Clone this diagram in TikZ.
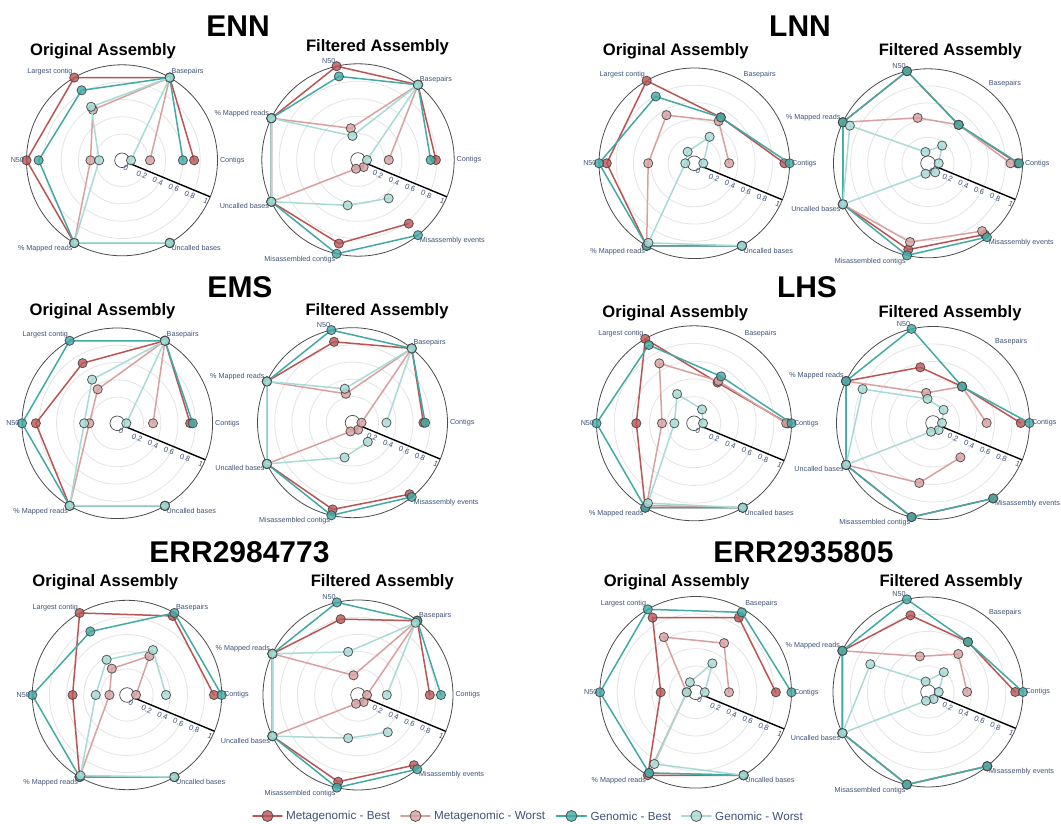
\documentclass[tikz,border=0pt]{standalone}
\usepackage{fontspec}
\setmainfont{Liberation Sans}
\definecolor{mbest}{HTML}{BD5454}
\definecolor{mworst}{HTML}{D9A0A0}
\definecolor{gbest}{HTML}{42AAA5}
\definecolor{gworst}{HTML}{A8DBD6}
\definecolor{labc}{HTML}{3F5378}
\definecolor{ringc}{HTML}{E4E4E4}
\tikzset{
  ring/.style={draw=ringc, line width=0.8pt},
  rim/.style={draw=black!70, line width=0.8pt},
  hole/.style={draw=black!70, line width=0.7pt},
  raxis/.style={draw=black, line width=1.4pt},
  tick/.style={text=labc, font=\fontsize{7.6}{8}\selectfont, rotate=-22.5, inner sep=0.5pt},
  axlab/.style={text=labc, font=\fontsize{7.2}{8}\selectfont, inner sep=0.8pt},
  tline/.style={draw=#1, line width=1.5pt, line join=round, line cap=round},
  tdot/.style={fill=#1, fill opacity=0.8, draw=black!75, draw opacity=0.85, line width=0.8pt},
  bigtitle/.style={font=\fontsize{30}{36}\selectfont\bfseries, anchor=base, inner sep=0pt},
  subtitle/.style={font=\fontsize{16.6}{20}\selectfont\bfseries, anchor=base, inner sep=0pt},
  legtext/.style={text=labc, font=\fontsize{11.7}{14}\selectfont, anchor=west, inner sep=0pt}
}
% rings, rim, inner hole and the radial scale of one polar panel
\newcommand\polarframe{%
  \foreach \v in {0.2,0.4,0.6,0.8}
    \draw[ring] (0,0) circle[radius={\chartZ+\v*(\chartR-\chartZ)}];
  \draw[rim] (0,0) circle[radius=\chartR];
  \draw[hole] (0,0) circle[radius=7.3];
  \draw[raxis] (-22.5:\chartZ) -- (-22.5:\chartR);
  \foreach \v in {0,0.2,0.4,0.6,0.8,1}
    \node[tick, shift={(-112.5:6.3)}] at (-22.5:{\chartZ+\v*(\chartR-\chartZ)}) {\v};
}
% one series: colour, first angle, angular step, values in drawing order
\newcommand\radartrace[4]{%
  \foreach \v [count=\k from 0] in {#4}
    \coordinate (pt\k) at ({#2-\k*#3}:{\chartZ+\v*(\chartR-\chartZ)});
  \draw[tline=#1] (pt0) \foreach \k in {1,...,\chartN} { -- (pt\k) };
  \foreach \k in {0,...,\chartN}
    \path[tdot=#1] (pt\k) circle[radius=4.6];
}
% six axes, drawn from Uncalled bases round to Contigs
\newcommand\sixtrace[2]{\def\chartN{5}\radartrace{#1}{300}{60}{#2}}
% seven axes, drawn from Misassembly events round to Contigs
\newcommand\seventrace[2]{\def\chartN{6}\radartrace{#1}{308.5714}{51.4286}{#2}}
\newcommand\sixaxes{%
  \node[axlab,anchor=west] at (0:{\chartR+1.5}) {Contigs};
  \node[axlab,anchor=south west] at (60:{\chartR+1.5}) {Basepairs};
  \node[axlab,anchor=south east] at (120:{\chartR+1.5}) {Largest contig};
  \node[axlab,anchor=east] at (180:{\chartR+1.5}) {N50};
  \node[axlab,anchor=north east] at (240:{\chartR+1.5}) {\% Mapped reads};
  \node[axlab,anchor=north west] at (300:{\chartR+1.5}) {Uncalled bases};
}
\newcommand\sevenaxes{%
  \node[axlab,anchor=west] at (0:{\chartR+1.5}) {Contigs};
  \node[axlab,anchor=south west] at (51.4286:{\chartR+1.5}) {Basepairs};
  \node[axlab,anchor=south east] at (102.857:{\chartR+1.5}) {N50};
  \node[axlab,anchor=south east] at (154.286:{\chartR+1.5}) {\% Mapped reads};
  \node[axlab,anchor=north east] at (205.714:{\chartR+1.5}) {Uncalled bases};
  \node[axlab,anchor=north east] at (257.143:{\chartR+1.5}) {Misassembled contigs};
  \node[axlab,anchor=north west] at (308.571:{\chartR+1.5}) {Misassembly events};
}
% a six-axis panel: centre x, centre y, radius, four series
\newcommand\sixpanel[7]{%
  \begin{scope}[shift={(#1,#2)}]
    \def\chartR{#3}\def\chartZ{9}
    \polarframe
    \sixtrace{mbest}{#4}\sixtrace{mworst}{#5}\sixtrace{gbest}{#6}\sixtrace{gworst}{#7}
    \sixaxes
  \end{scope}}
\newcommand\sevenpanel[7]{%
  \begin{scope}[shift={(#1,#2)}]
    \def\chartR{#3}\def\chartZ{9}
    \polarframe
    \seventrace{mbest}{#4}\seventrace{mworst}{#5}\seventrace{gbest}{#6}\seventrace{gworst}{#7}
    \sevenaxes
  \end{scope}}
\begin{document}
\begin{tikzpicture}[x=1pt,y=1pt]
\fill[white] (0,0) rectangle (1061,824);
\useasboundingbox (0,0) rectangle (1061,824);

% ---------- ENN ----------
\node[bigtitle] (tENN) at (238,787.3) {ENN};
\node[subtitle] (sENNo) at (103,768) {Original Assembly};
\node[subtitle] (sENNf) at (377.5,772) {Filtered Assembly};
\sixpanel{122}{663.7}{95.5}
  {1,1,1,1,1,0.73}{1,1,0.26,0.57,1,0.22}{1,1,0.86,0.83,1,0.60}{1,1,0.16,0.61,1,0}
\sevenpanel{358}{664}{96.2}
  {0.83,0.88,1,1,1,1,0.79}{0,0,1,1,0.27,1,0.25}{1,1,1,1,0.88,1,0.73}{0.46,0.43,1,1,0.18,1,0}

% ---------- LNN ----------
\node[bigtitle] (tLNN) at (800,787.3) {LNN};
\node[subtitle] (sLNNo) at (675.8,768) {Original Assembly};
\node[subtitle] (sLNNf) at (950.3,768) {Filtered Assembly};
\sixpanel{694.3}{660.7}{95.3}
  {1,1,0.91,1,0.51,0.94}{1,1,0.43,0.54,0.46,0.30}{1,1,1,0.79,0.51,1}{1,0.96,0,0.05,0.25,0}
\sevenpanel{928}{660.7}{94.5}
  {0.96,0.93,1,1,1,0.47,0.94}{0.91,0.84,1,1,0.44,0.47,0.86}{1,1,1,1,1,0.47,0.96}{0.03,0.02,1,0.91,0.03,0.16,0.02}

% ---------- EMS ----------
\node[bigtitle] (tEMS) at (240,526.3) {EMS};
\node[subtitle] (sEMSo) at (102.5,508) {Original Assembly};
\node[subtitle] (sEMSf) at (377,508) {Filtered Assembly};
\sixpanel{117.3}{400.7}{95.3}
  {1,1,0.84,0.70,1,0.74}{1,1,0.22,0.35,1,0.31}{1,1,1,1,1,0.77}{1,1,0.28,0.48,1,0}
\sevenpanel{352.5}{401.3}{95}
  {0.96,0.93,1,1,0.86,1,0.72}{0,0,1,1,0.24,1,0}{1,1,1,1,1,1,0.74}{0.18,0.31,1,1,0.30,1,0.29}

% ---------- LHS ----------
\node[bigtitle] (tLHS) at (807,526.3) {LHS};
\node[subtitle] (sLHSo) at (675.3,506.3) {Original Assembly};
\node[subtitle] (sLHSf) at (950,506.3) {Filtered Assembly};
\sixpanel{694}{400.7}{97.5}
  {1,1,0.55,1,0.43,0.96}{1,0.97,0.26,0.68,0.45,0.94}{1,1,1,0.92,0.51,1}{1,0.94,0.12,0.28,0.08,0}
\sevenpanel{933}{401}{96.5}
  {1,1,1,1,0.55,0.43,0.90}{0.40,0.60,1,1,0.25,0.43,0.51}{1,1,1,1,1,0.43,1}{0,0,1,0.79,0.18,0.09,0}

% ---------- ERR2984773 ----------
\node[bigtitle] (tERRa) at (239.5,261.3) {ERR2984773};
\node[subtitle] (sERRao) at (105.3,237) {Original Assembly};
\node[subtitle] (sERRaf) at (382.3,237) {Filtered Assembly};
\sixpanel{127}{129}{94.7}
  {1,1,0.53,1,0.96,0.91}{1,1,0.10,0.25,0.42,0}{1,1,1,0.75,1,1}{1,0.98,0.26,0.37,0.50,0.35}
\sevenpanel{358}{129}{95}
  {0.94,0.93,1,1,0.80,1,0.73}{0,0,1,1,0.13,1,0}{1,1,1,1,1,1,0.86}{0.45,0.41,1,1,0.41,0.97,0.23}

% ---------- ERR2935805 ----------
\node[bigtitle] (tERRb) at (803.5,261.3) {ERR2935805};
\node[subtitle] (sERRbo) at (676.7,237.3) {Original Assembly};
\node[subtitle] (sERRbf) at (951,237.3) {Filtered Assembly};
\sixpanel{695.7}{131.7}{95.8}
  {1,1,0.30,0.89,0.89,0.82}{1,0.97,0,0.63,0.55,0.28}{1,0.97,1,1,0.96,1}{1,0.85,0,0.03,0.28,0}
\sevenpanel{928}{132}{95}
  {1,1,1,1,0.81,0.64,0.91}{1,1,1,1,0.32,0.46,0.35}{1,1,1,1,1,0.64,1}{0,0,1,0.64,0.02,0.19,0.02}

% ---------- legend ----------
\foreach \c/\a/\b/\t in {mbest/253/282/Metagenomic - Best,
                         mworst/401/430/Metagenomic - Worst,
                         gbest/556.5/586.4/Genomic - Best,
                         gworst/681.6/711/Genomic - Worst}{
  \draw[tline=\c] (\a,8) -- (\b,8);
  \path[tdot=\c] ({(\a+\b)/2},8) circle[radius=5.5];
  \node[legtext] at (\b+4,8) {\t};
}
\end{tikzpicture}
\end{document}
